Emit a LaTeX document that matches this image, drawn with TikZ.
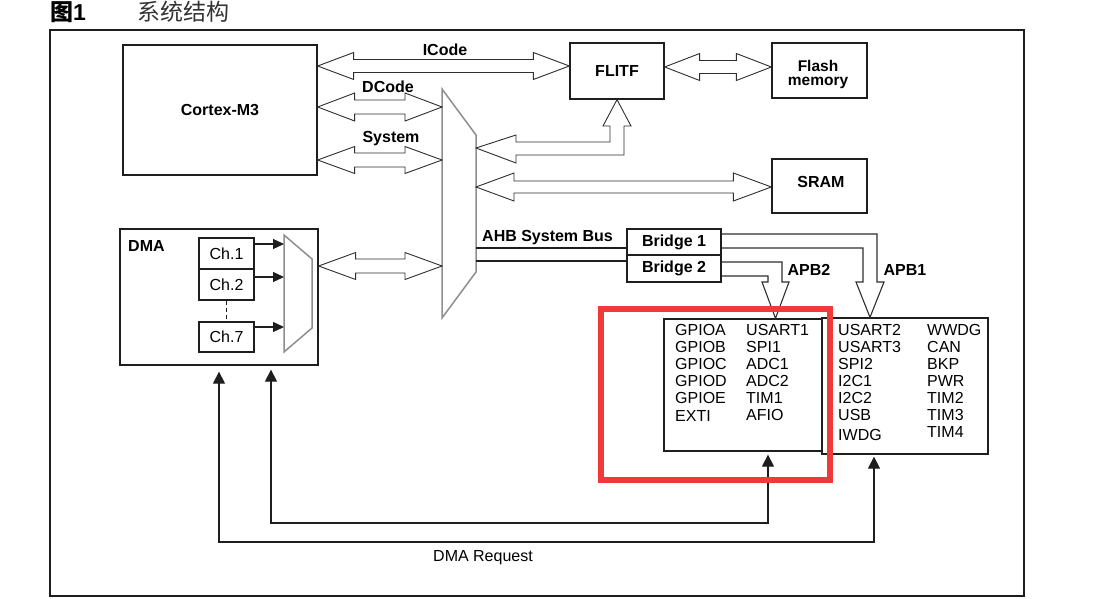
\documentclass[tikz,border=0pt]{standalone}
\usepackage{fontspec}
\setmainfont{Liberation Sans}
\newfontfamily\cjk{Noto Sans CJK SC}
\usetikzlibrary{calc,arrows.meta}
\definecolor{ln}{HTML}{1E1E1E}
\definecolor{fatc}{HTML}{2E2E2E}
\definecolor{muxc}{HTML}{8E8E8E}
\definecolor{hl}{RGB}{240,58,58}
\newcommand\lblfont{\fontsize{16}{17}\selectfont\bfseries}
\newcommand\txtfont{\fontsize{16}{17}\selectfont}
% double-headed hollow bus arrow: left tip, right tip, head length, shaft half width, head half width
\newcommand\dfat[5]{%
  \draw[fat] (#1) -- ++(#3,-#5) -- ++(0,#5-#4) -- ($(#2)+(-#3,-#4)$) -- ++(0,#4-#5) -- (#2)
    -- ++(-#3,#5) -- ++(0,#4-#5) -- ($(#1)+(#3,#4)$) -- ++(0,#5-#4) -- cycle;}
\begin{document}
\begin{tikzpicture}[x=1pt,y=-1pt,
  box/.style={draw=ln,line width=1.3pt,inner sep=0pt,font=\lblfont},
  chbox/.style={draw=ln,line width=1.2pt,inner sep=0pt,font=\txtfont},
  lbl/.style={inner sep=0pt,font=\lblfont},
  txt/.style={inner sep=0pt,font=\txtfont},
  col/.style={inner sep=0pt,font=\txtfont,align=left,anchor=north west},
  fat/.style={draw=fatc,line width=0.9pt,line join=miter},
  muxline/.style={draw=muxc,line width=1.5pt},
  req/.style={draw=ln,line width=1.3pt,{Triangle[length=12pt,width=12pt]}-{Triangle[length=12pt,width=12pt]}},
  charr/.style={draw=ln,line width=1.2pt,-{Triangle[length=11pt,width=10pt]}}
]
\useasboundingbox (0,0) rectangle (1100,599);

% title
\node[inner sep=0pt,anchor=base west,font=\fontsize{23}{23}\selectfont] (fig) at (50,21) {{\cjk\bfseries 图}\textbf{1}};
\node[inner sep=0pt,anchor=base west,font=\fontsize{23}{23}\selectfont,text=black!80] (title) at (137,21) {\cjk 系统结构};

% frame
\draw[draw=ln,line width=1.4pt] (50,30) rectangle (1024,596);

% main blocks
\node[box,minimum width=194pt,minimum height=130pt] (cortex) at (220,110) {Cortex-M3};
\node[box,minimum width=94pt,minimum height=56pt] (flitf) at (617,71) {FLITF};
\node[box,minimum width=95pt,minimum height=55pt] (flash) at (819.5,70.5) {};
\node[lbl,align=center,font=\fontsize{15.5}{13.5}\selectfont\bfseries] (flashlbl) at (818,74.5) {Flash\\memory};
\node[box,minimum width=95pt,minimum height=54pt] (sram) at (819.5,186) {};
\node[lbl] (sramlbl) at (821,182) {SRAM};
\node[box,minimum width=94pt,minimum height=26pt] (bridge1) at (674,242) {Bridge 1};
\node[box,minimum width=94pt,minimum height=27pt] (bridge2) at (674,268.5) {Bridge 2};

% bus matrix
\coordinate (mxTL) at (442,89);
\coordinate (mxTR) at (476,135);
\coordinate (mxBR) at (476,272);
\coordinate (mxBL) at (442,318);
\draw[muxline] (mxTL) -- (mxTR) -- (mxBR) -- (mxBL) -- cycle;
\coordinate (mxDc) at (442,107);
\coordinate (mxSy) at (442,160);
\coordinate (mxDma) at (442,266);
\coordinate (mxFl) at (476,148);
\coordinate (mxSr) at (476,187);

% DMA block
\node[box,minimum width=198pt,minimum height=136pt] (dma) at (219,297) {};
\node[lbl,anchor=west] (dmalbl) at (128,246) {DMA};
\node[chbox,minimum width=55pt,minimum height=31pt] (ch1) at (226.5,253.5) {Ch.1};
\node[chbox,minimum width=55pt,minimum height=31pt] (ch2) at (226.5,284.5) {Ch.2};
\node[chbox,minimum width=55pt,minimum height=30pt] (ch7) at (226.5,337) {Ch.7};
\draw[draw=ln,line width=1.1pt,dash pattern=on 4pt off 3pt] (ch2.south) -- (ch7.north);
\coordinate (dmTL) at (284,235);
\coordinate (dmTR) at (312,259);
\coordinate (dmBR) at (312,328);
\coordinate (dmBL) at (284,352);
\draw[muxline] (dmTL) -- (dmTR) -- (dmBR) -- (dmBL) -- cycle;
\coordinate (m1) at (284,244);
\coordinate (m2) at (284,277);
\coordinate (m7) at (284,327);
\draw[charr] (ch1.east |- m1) -- (m1);
\draw[charr] (ch2.east |- m2) -- (m2);
\draw[charr] (ch7.east |- m7) -- (m7);

% bus arrows
\coordinate (cIc) at (cortex.east |- 0,66);
\coordinate (fIc) at (flitf.west |- 0,66);
\dfat{cIc}{fIc}{36}{6.5}{13.5}
\node[lbl] (icode) at (445,50) {ICode};
\coordinate (cDc) at (cortex.east |- mxDc);
\dfat{cDc}{mxDc}{37}{7}{14}
\node[lbl] (dcode) at (388,87) {DCode};
\coordinate (cSy) at (cortex.east |- mxSy);
\dfat{cSy}{mxSy}{37}{7}{13.5}
\node[lbl] (system) at (391,139) {System};
\coordinate (dDma) at (dma.east |- mxDma);
\dfat{dDma}{mxDma}{37}{7}{13.5}
\coordinate (fFl) at (flitf.east |- 0,67);
\coordinate (flFl) at (flash.west |- 0,67);
\dfat{fFl}{flFl}{35}{6.5}{13.5}
\coordinate (sSr) at (sram.west |- mxSr);
\dfat{mxSr}{sSr}{38}{6}{14}

% matrix to FLITF
\draw[fat] (mxFl) -- ++(40,-13) -- ++(0,7) -- (610,142) -- (610,126) -- (603,126) -- (flitf.south)
  -- (631,126) -- (624,126) -- (624,155) -- (516,155) -- (516,163) -- cycle;

% AHB system bus
\draw[draw=ln,line width=1.2pt] (mxBR |- 0,248) -- (bridge1.west |- 0,248);
\draw[draw=ln,line width=1.2pt] (mxBR |- 0,261) -- (bridge2.west |- 0,261);
\node[lbl,anchor=west] (ahb) at (482,238) {AHB System Bus};

% peripheral boxes
\node[box,minimum width=158pt,minimum height=132pt] (apb2box) at (743,385) {};
\node[box,minimum width=166pt,minimum height=136pt] (apb1box) at (905,386) {};
\node[col] (p2a) at (675,324) {GPIOA\\GPIOB\\GPIOC\\GPIOD\\GPIOE\\[1.5pt]EXTI};
\node[col] (p2b) at (746,324) {USART1\\SPI1\\ADC1\\ADC2\\TIM1\\AFIO};
\node[col] (p1a) at (838,324) {USART2\\USART3\\SPI2\\I2C1\\I2C2\\USB\\[3pt]IWDG};
\node[col] (p1b) at (927,324) {WWDG\\CAN\\BKP\\PWR\\TIM2\\TIM3\\TIM4};

% APB buses
\draw[fat,line width=1.1pt] (bridge1.east |- 0,234) -- (877,234) -- (877,282) -- (884,282) -- (apb1box.north -| 870,0)
  -- (856,282) -- (863,282) -- (863,248) -- (bridge1.east |- 0,248);
\node[lbl] (apb1) at (905,270) {APB1};
\draw[fat,line width=1.1pt] (bridge2.east |- 0,262) -- (782,262) -- (782,282) -- (789,282) -- (apb2box.north -| 775.5,0)
  -- (762,282) -- (768,282) -- (768,276) -- (bridge2.east |- 0,276);
\node[lbl] (apb2) at (809,270) {APB2};

% DMA requests
\coordinate (rqA1) at ($(dma.south)+(0,6)$);
\coordinate (rqA2) at ($(apb1box.south -| 874,0)+(0,2)$);
\draw[req] (rqA1) -- (rqA1 |- 0,542) -| (rqA2);
\coordinate (rqB1) at ($(dma.south -| 271,0)+(0,4)$);
\coordinate (rqB2) at ($(apb2box.south -| 768,0)+(0,3)$);
\draw[req] (rqB1) -- (rqB1 |- 0,523) -| (rqB2);
\node[txt] (dmareq) at (483,558) {DMA Request};

% highlight
\draw[draw=hl,line width=6pt] (601,309) rectangle (830,480);
\end{tikzpicture}
\end{document}
